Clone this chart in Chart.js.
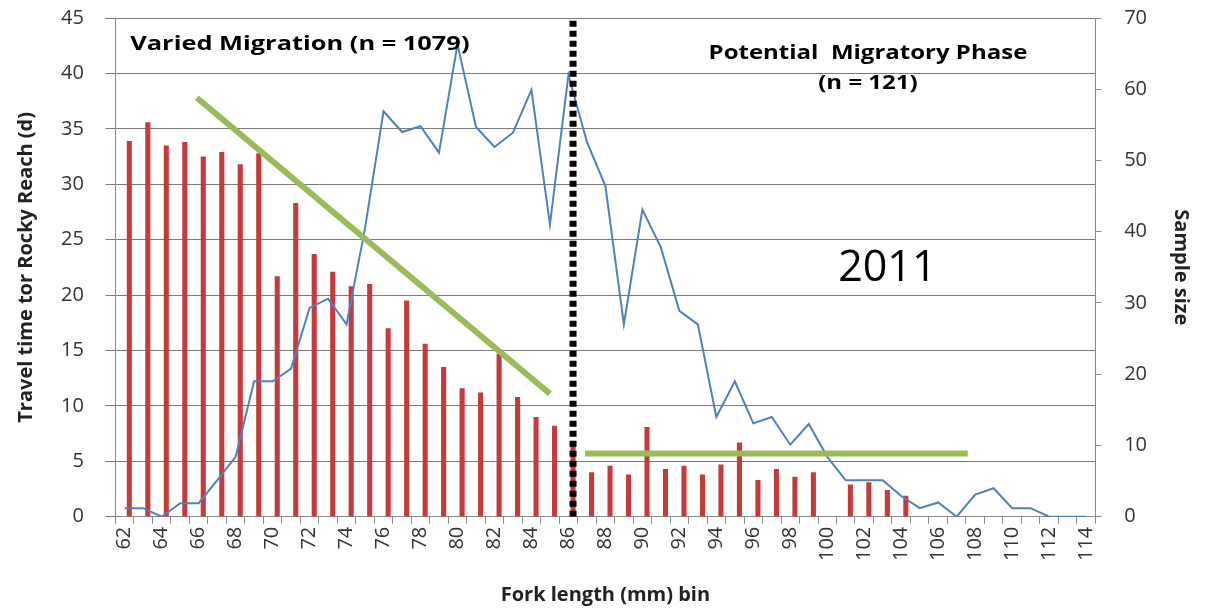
<!DOCTYPE html>
<html>
<head>
<meta charset="utf-8">
<script src="https://cdn.jsdelivr.net/npm/chart.js@4/dist/chart.umd.min.js"></script>
<style>
  html, body { margin: 0; padding: 0; background: #fff; }
  #wrap { width: 1210px; height: 613px; }
</style>
</head>
<body>
<div id="wrap"><canvas id="migChart"></canvas></div>
<script>
// fork length bins (mm)
const BINS = [];
for (let b = 62; b <= 114; b++) BINS.push(String(b));

// travel time to Rocky Reach (d), left axis
const TRAVEL = [
  33.9, 35.6, 33.5, 33.8, 32.5, 32.9, 31.8, 32.8, 21.7, 28.3,
  23.7, 22.1, 20.8, 21.0, 17.0, 19.5, 15.6, 13.5, 11.6, 11.2,
  14.7, 10.8, 9.0, 8.2, 6.8, 4.0, 4.6, 3.8, 8.1, 4.3,
  4.6, 3.8, 4.7, 6.7, 3.3, 4.3, 3.6, 4.0, 0, 2.9,
  3.1, 2.4, 1.9, 0, 0, 0, 0, 0, 0, 0,
  0, 0, 0
];

// sample size, right axis
const SAMPLE = [
  1.2, 1.2, 0, 1.9, 1.9, 5.1, 8.4, 19.0, 19.0, 20.8,
  29.3, 30.6, 27.0, 40.5, 56.9, 54.0, 54.8, 51.1, 66.3, 54.7,
  51.9, 53.9, 59.9, 41.0, 62.0, 52.6, 46.4, 27.0, 43.1, 37.8,
  28.9, 27.0, 14.0, 19.0, 13.1, 14.0, 10.1, 13.0, 8.4, 5.1,
  5.1, 5.1, 2.9, 1.2, 2.0, 0, 3.1, 4.0, 1.2, 1.2,
  0, 0, 0
];

// hand-drawn trend lines (fork length, days)
const TREND_VARIED = [{ x: 65.9, y: 37.8 }, { x: 85.0, y: 11.1 }];
const TREND_PHASE = [{ x: 86.9, y: 5.7 }, { x: 107.6, y: 5.7 }];
// split between the two phases
const SPLIT = [{ x: 86.25, y: 0 }, { x: 86.25, y: 45 }];

const FONT = '"Open Sans", Lato, sans-serif';

// text boxes placed on the plot (stretched a bit wide like the original)
function wideText(ctx, txt, x, y, sx) {
  ctx.save();
  ctx.translate(x, y);
  ctx.scale(sx, 1);
  ctx.fillText(txt, 0, 0);
  ctx.restore();
}

const notes = {
  id: 'notes',
  afterDatasetsDraw(chart) {
    const { ctx } = chart;
    const xs = chart.scales.xl, ys = chart.scales.y;
    ctx.save();
    ctx.fillStyle = '#000';
    ctx.textBaseline = 'middle';
    ctx.font = 'bold 20px ' + FONT;
    ctx.textAlign = 'left';
    wideText(ctx, 'Varied Migration (n = 1079)', xs.getPixelForValue(62.3), ys.getPixelForValue(42.6), 1.27);
    ctx.textAlign = 'center';
    wideText(ctx, 'Potential  Migratory Phase', xs.getPixelForValue(102.2), ys.getPixelForValue(41.8), 1.2);
    wideText(ctx, '(n = 121)', xs.getPixelForValue(102.2), ys.getPixelForValue(39.1), 1.2);
    ctx.font = '43px ' + FONT;
    wideText(ctx, '2011', xs.getPixelForValue(103.25), ys.getPixelForValue(22.4), 1.0);
    ctx.restore();
  }
};

new Chart(document.getElementById('migChart'), {
  data: {
    labels: BINS,
    datasets: [
      {
        type: 'line',
        label: 'Split',
        data: SPLIT,
        xAxisID: 'xl',
        yAxisID: 'y',
        borderColor: '#000',
        borderWidth: 7,
        borderDash: [6, 4],
        borderCapStyle: 'butt',
        pointRadius: 0,
        order: 0
      },
      {
        type: 'line',
        label: 'Trend varied',
        data: TREND_VARIED,
        xAxisID: 'xl',
        yAxisID: 'y',
        borderColor: '#9BBB59',
        borderWidth: 6,
        pointRadius: 0,
        order: 1
      },
      {
        type: 'line',
        label: 'Trend phase',
        data: TREND_PHASE,
        xAxisID: 'xl',
        yAxisID: 'y',
        borderColor: '#9BBB59',
        borderWidth: 6,
        pointRadius: 0,
        order: 1
      },
      {
        type: 'line',
        label: 'Sample size',
        data: SAMPLE,
        xAxisID: 'x',
        yAxisID: 'y2',
        borderColor: '#4F81BD',
        borderWidth: 2,
        pointRadius: 0,
        tension: 0,
        order: 2
      },
      {
        type: 'bar',
        label: 'Travel time',
        data: TRAVEL,
        xAxisID: 'x',
        yAxisID: 'y',
        backgroundColor: '#C8393B',
        barPercentage: 0.55,
        categoryPercentage: 1,
        order: 3
      }
    ]
  },
  options: {
    responsive: true,
    maintainAspectRatio: false,
    animation: false,
    layout: { padding: { top: 4, right: 1, left: 10, bottom: 2 } },
    plugins: { legend: { display: false }, tooltip: { enabled: false } },
    scales: {
      x: {
        type: 'category',
        offset: true,
        grid: { drawOnChartArea: false, offset: true, tickLength: 7, color: '#888' },
        border: { color: '#888' },
        ticks: {
          autoSkip: false,
          maxRotation: 90,
          minRotation: 90,
          color: '#333',
          font: { family: FONT, size: 20 },
          callback: (v, i) => (i % 2 === 0 ? BINS[i] : '')
        },
        title: { display: true, text: 'Fork length (mm) bin', color: '#222', font: { family: FONT, size: 20, weight: 'bold' }, padding: { top: 19 } }
      },
      xl: {
        type: 'linear',
        display: false,
        min: 61.5,
        max: 114.5
      },
      y: {
        position: 'left',
        min: 0,
        max: 45,
        // trailing spaces keep the labels clear of the axis without raising the top gap
        ticks: { stepSize: 5, color: '#333', font: { family: FONT, size: 20 }, padding: 6, callback: v => v + '   ' },
        grid: { color: '#7a7a7a', tickLength: 10 },
        border: { color: '#888' },
        title: { display: true, text: 'Travel time tor Rocky Reach (d)', color: '#222', font: { family: FONT, size: 20, weight: 'bold' }, padding: { bottom: 17 } }
      },
      y2: {
        position: 'right',
        min: 0,
        max: 70,
        ticks: { stepSize: 10, color: '#333', font: { family: FONT, size: 20 }, padding: 2, callback: v => '    ' + v },
        grid: { drawOnChartArea: false, tickLength: 6, color: '#888' },
        border: { color: '#888' },
        title: { display: true, text: 'Sample size', color: '#222', font: { family: FONT, size: 20, weight: 'bold' }, padding: { top: 16, bottom: 20 } }
      }
    }
  },
  plugins: [notes]
});
</script>
</body>
</html>
